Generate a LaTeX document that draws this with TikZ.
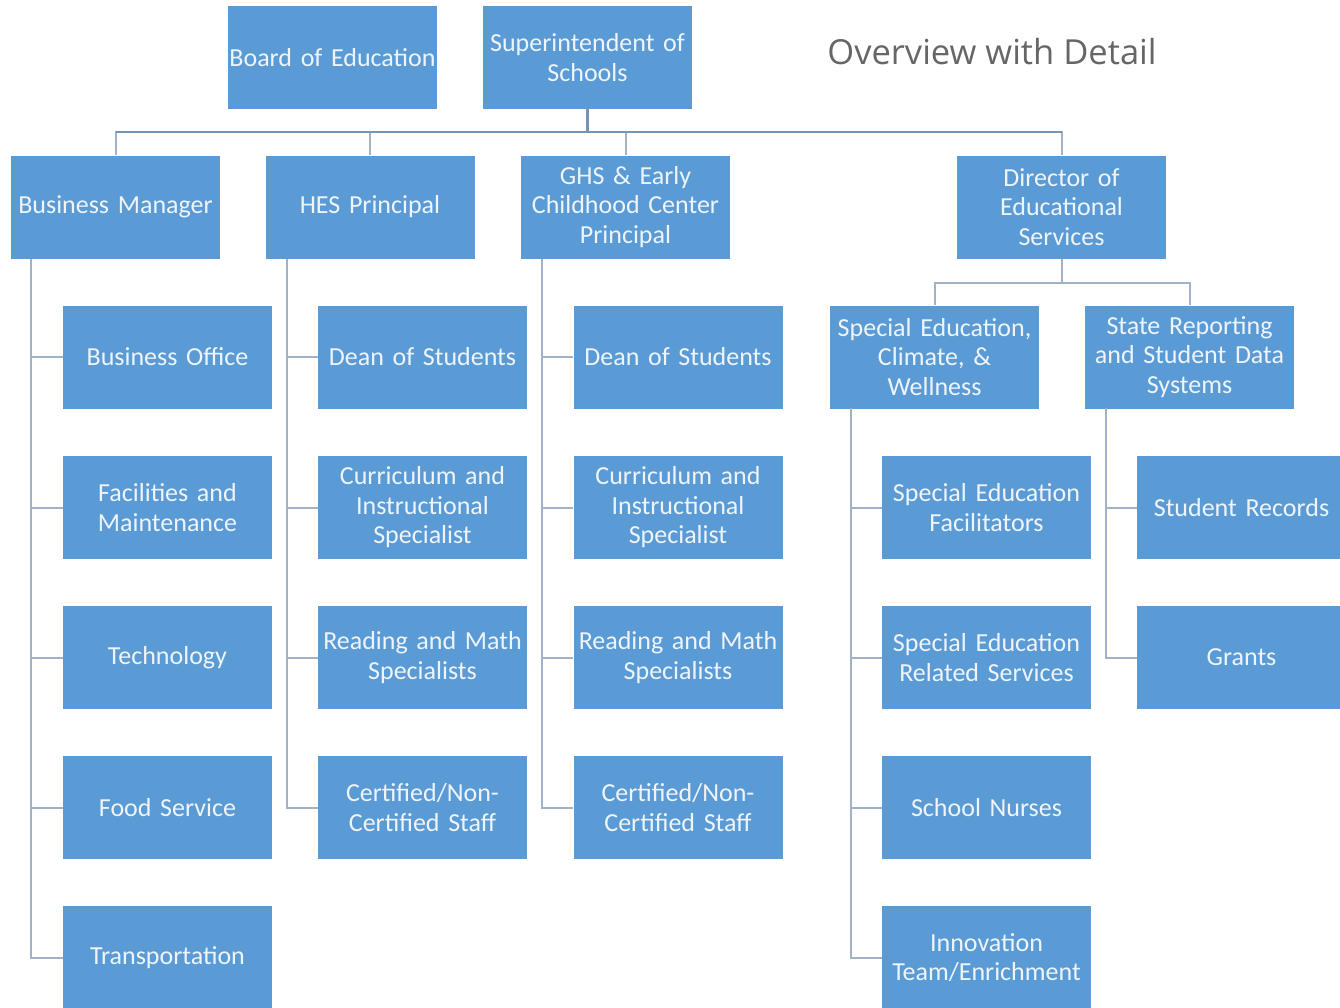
\documentclass[tikz,border=0pt]{standalone}
\usepackage{fontspec}
\setmainfont{Carlito}
\newfontfamily\titlefont{Open Sans}
\definecolor{boxblue}{RGB}{91,155,213}
\definecolor{connline}{RGB}{160,178,200}
\definecolor{topline}{RGB}{120,148,180}
\definecolor{boxtext}{RGB}{238,244,250}
\definecolor{titlegray}{RGB}{102,102,102}
\tikzset{
  orgbox/.style={fill=boxblue, draw=none, minimum width=209pt, minimum height=103pt,
    text width=209pt, align=center, inner sep=0pt, text=boxtext,
    font=\fontsize{26}{29.5}\selectfont},
  conn/.style={draw=connline, line width=2pt},
  topconn/.style={draw=topline, line width=2.5pt}
}
\begin{document}
\begin{tikzpicture}[x=1pt,y=-1pt]
\useasboundingbox (0,0) rectangle (1340,1007);
\clip (0,0) rectangle (1340,1007);
% top row
\node[orgbox] (board) at (332.5,57.5) {Board of Education};
\node[orgbox] (sup) at (587.5,57.5) {Superintendent of\\Schools};
\node[text=titlegray, font=\titlefont\fontsize{34.5}{40}\selectfont, inner sep=0pt] (title) at (992,52) {Overview with Detail};
% second row
\node[orgbox] (bm) at (115.5,207) {Business Manager};
\node[orgbox] (hes) at (370,207) {HES Principal};
\node[orgbox] (ghs) at (625.5,207) {GHS \& Early\\Childhood Center\\Principal};
\node[orgbox] (dir) at (1061.5,207) {Director of\\Educational\\Services};
% business manager children
\node[orgbox] (bo) at (167.5,357) {Business Office};
\node[orgbox] (fac) at (167.5,507.5) {Facilities and\\Maintenance};
\node[orgbox] (tech) at (167.5,657.5) {Technology};
\node[orgbox] (food) at (167.5,807.5) {Food Service};
\node[orgbox] (trans) at (167.5,957.5) {Transportation};
% HES children
\node[orgbox] (hdean) at (422.5,357) {Dean of Students};
\node[orgbox] (hcur) at (422.5,507.5) {Curriculum and\\Instructional\\Specialist};
\node[orgbox] (hread) at (422.5,657.5) {Reading and Math\\Specialists};
\node[orgbox] (hcert) at (422.5,807.5) {Certified/Non-\\Certified Staff};
% GHS children
\node[orgbox] (gdean) at (678,357) {Dean of Students};
\node[orgbox] (gcur) at (678,507.5) {Curriculum and\\Instructional\\Specialist};
\node[orgbox] (gread) at (678,657.5) {Reading and Math\\Specialists};
\node[orgbox] (gcert) at (678,807.5) {Certified/Non-\\Certified Staff};
% Director children
\node[orgbox] (sped) at (934.5,357) {Special Education,\\Climate, \&\\Wellness};
\node[orgbox] (state) at (1189.5,357) {State Reporting\\and Student Data\\Systems};
\node[orgbox] (sfac) at (986.5,507.5) {Special Education\\Facilitators};
\node[orgbox] (srel) at (986.5,657.5) {Special Education\\Related Services};
\node[orgbox] (nurse) at (986.5,807.5) {School Nurses};
\node[orgbox] (innov) at (986.5,957.5) {Innovation\\Team/Enrichment};
\node[orgbox] (rec) at (1241.5,507.5) {Student Records};
\node[orgbox] (grant) at (1241.5,657.5) {Grants};
% top connectors
\coordinate (tb) at (589,132);
\draw[topconn] (sup.south) -- (sup.south |- tb);
\draw[conn] (bm.north) -- (bm.north |- tb) -- (dir.north |- tb) -- (dir.north);
\draw[conn] (hes.north) -- (hes.north |- tb);
\draw[conn] (ghs.north) -- (ghs.north |- tb);
\draw[topconn] (bm.north |- tb) -- (dir.north |- tb);
% director connectors
\coordinate (db) at (1062,283);
\draw[conn] (dir.south) -- (dir.south |- db);
\draw[conn] (sped.north) -- (sped.north |- db) -- (state.north |- db) -- (state.north);
% trunks
\coordinate (bmt) at (31,259);
\coordinate (hest) at (287,259);
\coordinate (ghst) at (542,259);
\coordinate (spt) at (851,408);
\coordinate (stt) at (1106,408);
\foreach \c in {bo,fac,tech,food,trans} \draw[conn] (bmt) |- (\c.west);
\foreach \c in {hdean,hcur,hread,hcert} \draw[conn] (hest) |- (\c.west);
\foreach \c in {gdean,gcur,gread,gcert} \draw[conn] (ghst) |- (\c.west);
\foreach \c in {sfac,srel,nurse,innov} \draw[conn] (spt) |- (\c.west);
\foreach \c in {rec,grant} \draw[conn] (stt) |- (\c.west);
\end{tikzpicture}
\end{document}
